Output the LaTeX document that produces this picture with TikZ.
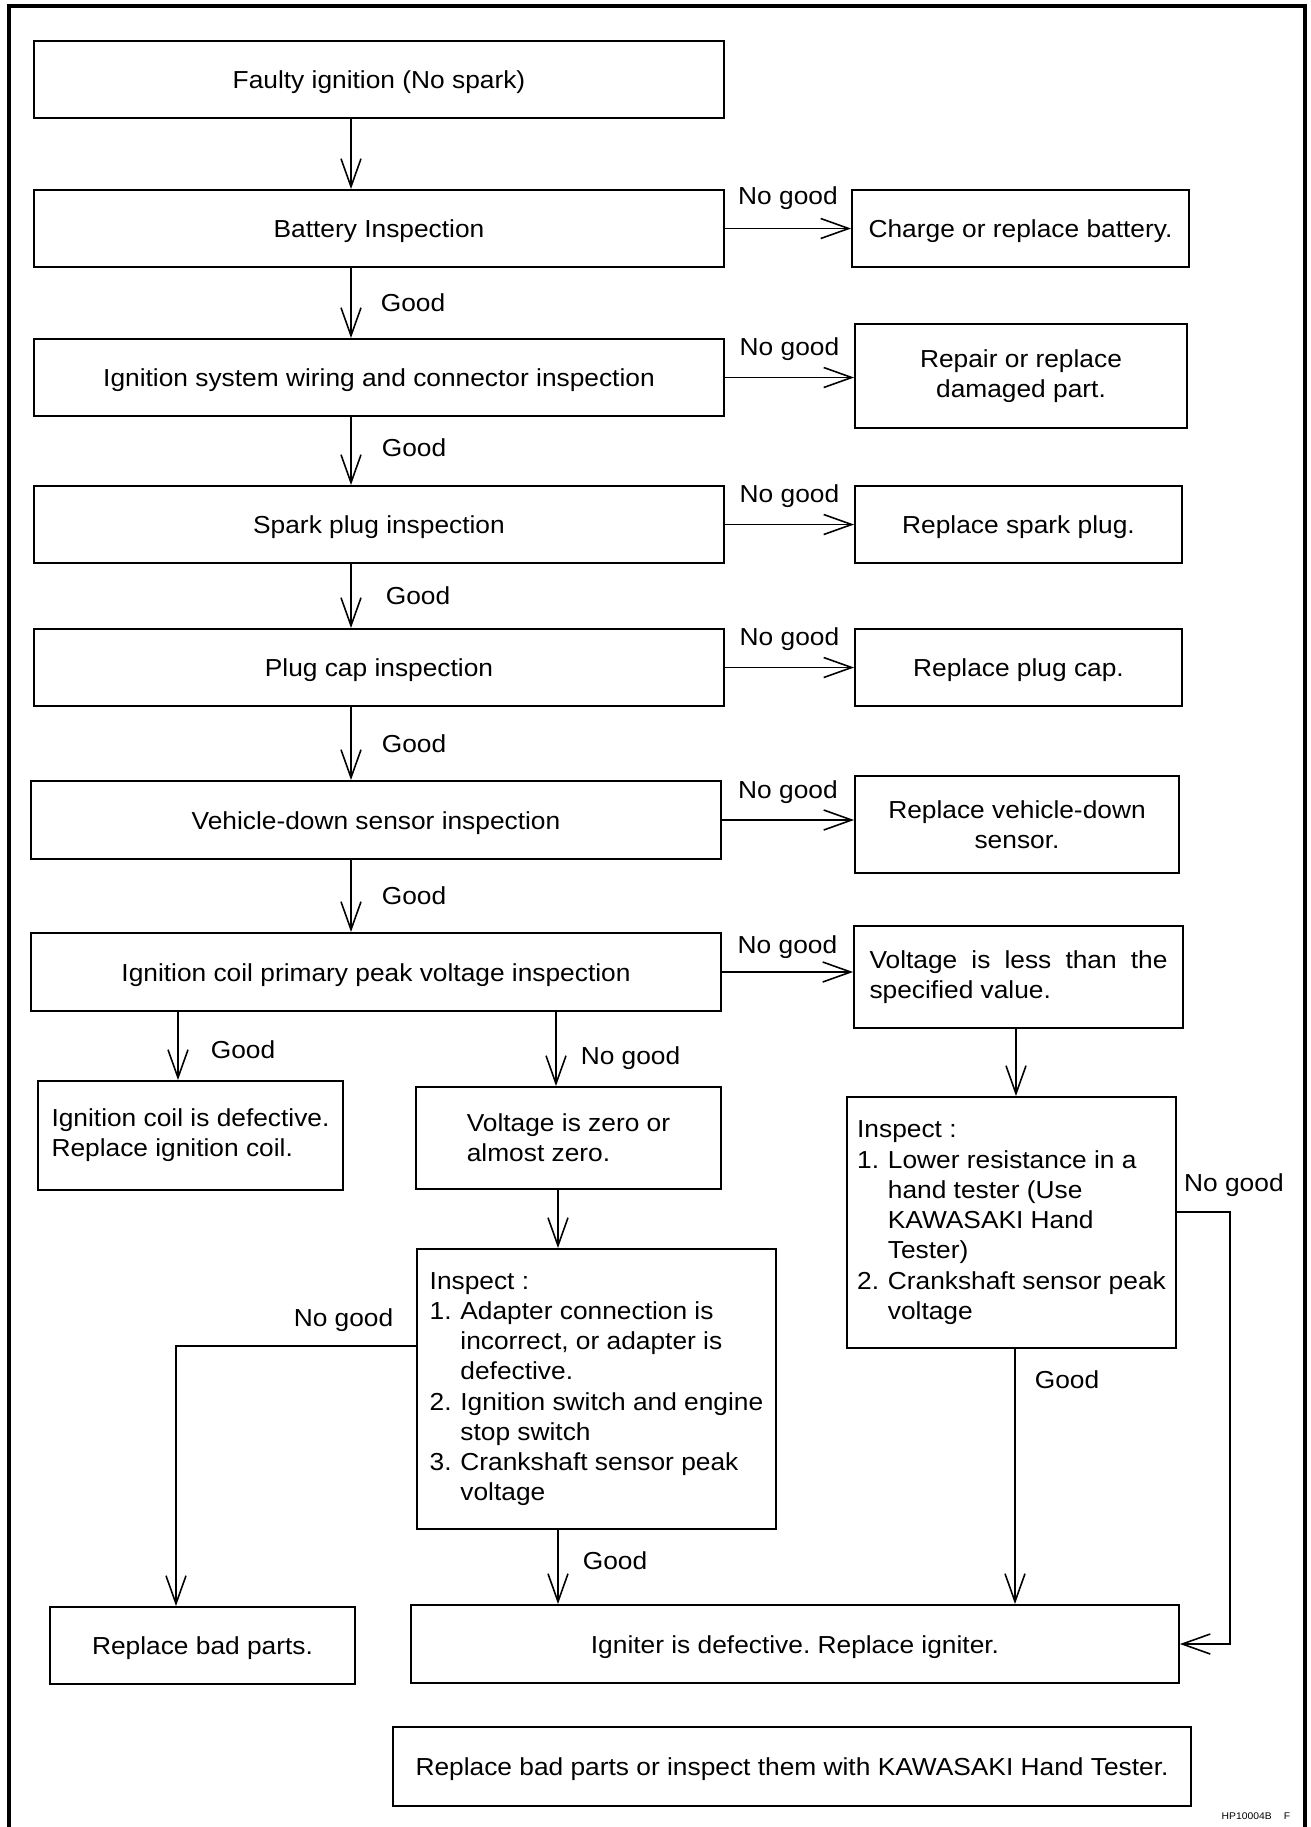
\documentclass[tikz,border=0pt]{standalone}
\usepackage{fontspec}
\setmainfont{Liberation Sans}[FakeStretch=1.07]
\frenchspacing
\usetikzlibrary{arrows.meta, positioning}
\tikzset{
	flowbox/.style={draw, line width=1.1pt, inner sep=0pt, font=\fontsize{14}{17.2}\selectfont}
}
\tikzset{
	onerow/.style={flowbox, text height=10.5pt, text depth=0pt}
}
\tikzset{
	steplabel/.style={inner sep=0pt, font=\fontsize{14}{17.2}\selectfont}
}
\tikzset{
	flowarrow/.style={line width=0.9pt, -{Straight Barb[length=0.56cm, width=0.4cm]}}
}

\begin{document}
\begin{tikzpicture}[x=0.02cm, y=-0.02cm]
      \useasboundingbox (0,0) rectangle (1311,1827);

      % outer frame, open at the bottom
      \draw[line width=1.8pt] (9,1832) -- (9,6) -- (1305,6) -- (1305,1832);

      % main column of inspections
      \node[onerow, minimum width=13.8cm, minimum height=1.54cm] (faulty) at (379,79.5) {Faulty ignition (No spark)};
      \node[onerow, minimum width=13.8cm, minimum height=1.54cm] (battery) at (379,228.5) {Battery Inspection};
      \node[onerow, minimum width=13.8cm, minimum height=1.54cm] (wiring) at (379,377.5) {Ignition system wiring and connector inspection};
      \node[onerow, minimum width=13.8cm, minimum height=1.54cm] (spark) at (379,524.5) {Spark plug inspection};
      \node[onerow, minimum width=13.8cm, minimum height=1.54cm] (plugcap) at (379,667.5) {Plug cap inspection};
      \node[onerow, minimum width=13.8cm, minimum height=1.56cm] (vds) at (376,820) {Vehicle-down sensor inspection};
      \node[onerow, minimum width=13.8cm, minimum height=1.56cm] (coil) at (376,972) {Ignition coil primary peak voltage inspection};

      % remedies on the right
      \node[onerow, minimum width=6.74cm, minimum height=1.54cm] (charge) at (1020.5,228.5) {Charge or replace battery.};
      \node[flowbox, minimum width=6.64cm, minimum height=2.08cm, align=center] (repair) at (1021,376) {Repair or replace\\damaged part.};
      \node[onerow, minimum width=6.54cm, minimum height=1.54cm] (rspark) at (1018.5,524.5) {Replace spark plug.};
      \node[onerow, minimum width=6.54cm, minimum height=1.54cm] (rcap) at (1018.5,667.5) {Replace plug cap.};
      \node[flowbox, minimum width=6.48cm, minimum height=1.94cm, align=center] (rvds) at (1017,824.5) {Replace vehicle-down\\sensor.};
      \node[flowbox, minimum width=6.58cm, minimum height=2.04cm, text width=5.96cm, align=justify] (less) at (1018.5,977) {Voltage is less than the specified value.};

      % below the coil check
      \node[flowbox, minimum width=6.1cm, minimum height=2.18cm, align=left] (defect) at (190.5,1135.5) {Ignition coil is defective.\\Replace ignition coil.};
      \node[flowbox, minimum width=6.1cm, minimum height=2.04cm, align=left] (zero) at (568.5,1138) {Voltage is zero or\\almost zero.};
      \node[flowbox, minimum width=7.18cm, minimum height=5.6cm] (minsp) at (596.5,1389) {%
        \begin{tabular}{@{}l@{\hspace{5pt}}l@{}}
          \multicolumn{2}{@{}l@{}}{Inspect :}\\
          1. & Adapter connection is\\
             & incorrect, or adapter is\\
             & defective.\\
          2. & Ignition switch and engine\\
             & stop switch\\
          3. & Crankshaft sensor peak\\
             & voltage
        \end{tabular}};
      \node[flowbox, minimum width=6.58cm, minimum height=5.02cm] (rinsp) at (1011.5,1222.5) {%
        \begin{tabular}{@{}l@{\hspace{5pt}}l@{}}
          \multicolumn{2}{@{}l@{}}{Inspect :}\\
          1. & Lower resistance in a\\
             & hand tester (Use\\
             & KAWASAKI Hand\\
             & Tester)\\
          2. & Crankshaft sensor peak\\
             & voltage
        \end{tabular}};

      % results at the bottom
      \node[onerow, minimum width=6.1cm, minimum height=1.54cm] (rbad) at (202.5,1645.5) {Replace bad parts.};
      \node[onerow, minimum width=15.36cm, minimum height=1.56cm] (igniter) at (795,1644) {Igniter is defective. Replace igniter.};
      \node[onerow, minimum width=15.96cm, minimum height=1.58cm] (final) at (792,1766.5) {Replace bad parts or inspect them with KAWASAKI Hand Tester.};
      \node[inner sep=0pt, font=\fontsize{5.5}{6.5}\selectfont] (code) at (1256,1816) {HP10004B\hspace{7pt}F};

      % down the main column
      \draw[flowarrow] (351,0 |- faulty.south) -- (351,0 |- battery.north);
      \draw[flowarrow] (351,0 |- battery.south) -- node[steplabel, right=0.58cm] {Good} (351,0 |- wiring.north);
      \draw[flowarrow] (351,0 |- wiring.south) -- node[steplabel, right=0.6cm, pos=0.45] {Good} (351,0 |- spark.north);
      \draw[flowarrow] (351,0 |- spark.south) -- node[steplabel, right=0.68cm] {Good} (351,0 |- plugcap.north);
      \draw[flowarrow] (351,0 |- plugcap.south) -- node[steplabel, right=0.6cm] {Good} (351,0 |- vds.north);
      \draw[flowarrow] (351,0 |- vds.south) -- node[steplabel, right=0.6cm] {Good} (351,0 |- coil.north);

      % no good to the right
      \draw[flowarrow] (battery.east) -- node[steplabel, above=0.36cm] {No good} (battery.east -| charge.west);
      \draw[flowarrow] (wiring.east) -- node[steplabel, above=0.32cm] {No good} (wiring.east -| repair.west);
      \draw[flowarrow] (spark.east) -- node[steplabel, above=0.32cm] {No good} (spark.east -| rspark.west);
      \draw[flowarrow] (plugcap.east) -- node[steplabel, above=0.32cm] {No good} (plugcap.east -| rcap.west);
      \draw[flowarrow] (vds.east) -- node[steplabel, above=0.32cm] {No good} (vds.east -| rvds.west);
      \draw[flowarrow] (coil.east) -- node[steplabel, above=0.26cm] {No good} (coil.east -| less.west);

      % coil check branches
      \draw[flowarrow] (178,0 |- coil.south) -- node[steplabel, right=0.64cm, pos=0.55] {Good} (178,0 |- defect.north);
      \draw[flowarrow] (556,0 |- coil.south) -- node[steplabel, right=0.48cm, pos=0.62] {No good} (556,0 |- zero.north);
      \draw[flowarrow] (1016,0 |- less.south) -- (1016,0 |- rinsp.north);
      \draw[flowarrow] (558,0 |- zero.south) -- (558,0 |- minsp.north);

      % into the last row
      \draw[flowarrow] ([yshift=0.86cm]minsp.west) node[steplabel, above left=0.28cm and 0.44cm] {No good} -| (176,0 |- rbad.north);
      \draw[flowarrow] (558,0 |- minsp.south) -- node[steplabel, right=0.48cm, pos=0.42] {Good} (558,0 |- igniter.north);
      \draw[flowarrow] (1015,0 |- rinsp.south) -- node[steplabel, right=0.38cm, pos=0.12] {Good} (1015,0 |- igniter.north);
      \draw[flowarrow] ([yshift=0.21cm]rinsp.east) -- node[steplabel, above=0.3cm, pos=1, xshift=0.08cm] {No good} ++(53,0) |- (igniter.east);
\end{tikzpicture}
\end{document}
